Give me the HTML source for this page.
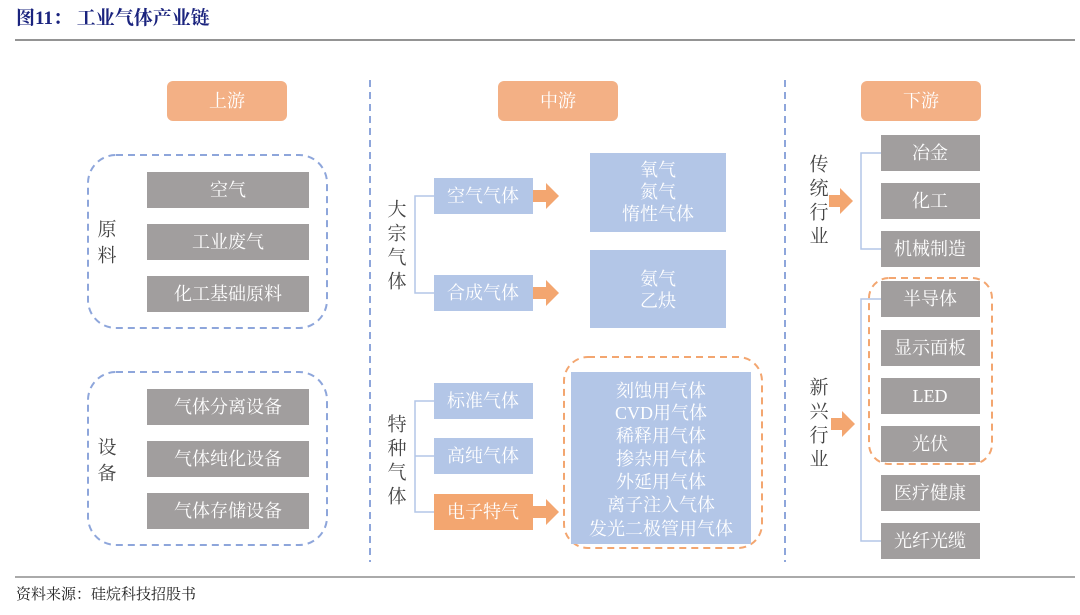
<!DOCTYPE html>
<html><head><meta charset="utf-8"><style>
html,body{margin:0;padding:0;background:#fff;}
svg{display:block;}
text{font-family:"Liberation Serif","Noto Serif CJK SC",serif;}
.w{fill:#fff;font-size:18px;text-anchor:middle;dominant-baseline:central;}
.l{fill:#444;font-size:19px;text-anchor:middle;dominant-baseline:central;}
</style></head><body>
<svg width="1080" height="615" viewBox="0 0 1080 615" xmlns="http://www.w3.org/2000/svg">
<text x="16" y="24" style="font-size:19px;font-weight:bold;fill:#1a237e;font-family:'Liberation Serif','Noto Serif CJK SC',serif">图11：  工业气体产业链</text>
<line x1="15" y1="40" x2="1075" y2="40" stroke="#555" stroke-width="1.2"/>
<line x1="15" y1="577" x2="1075" y2="577" stroke="#555" stroke-width="1"/>
<text x="16" y="599" style="font-size:15px;fill:#222">资料来源：硅烷科技招股书</text>

<!-- dividers -->
<line x1="370" y1="80" x2="370" y2="562" stroke="#8ea6db" stroke-width="2" stroke-dasharray="7,5"/>
<line x1="785" y1="80" x2="785" y2="562" stroke="#8ea6db" stroke-width="2" stroke-dasharray="7,5"/>

<!-- headers -->
<rect x="167" y="81" width="120" height="40" rx="6" fill="#f3b085"/><text class="w" x="227" y="101">上游</text>
<rect x="498" y="81" width="120" height="40" rx="6" fill="#f3b085"/><text class="w" x="558" y="101">中游</text>
<rect x="861" y="81" width="120" height="40" rx="6" fill="#f3b085"/><text class="w" x="921" y="101">下游</text>

<!-- upstream -->
<rect x="88" y="155" width="239" height="173" rx="28" fill="none" stroke="#8ea6db" stroke-width="2" stroke-dasharray="7,5"/>
<rect x="88" y="372" width="239" height="173" rx="28" fill="none" stroke="#8ea6db" stroke-width="2" stroke-dasharray="7,5"/>
<g fill="#a19e9e">
<rect x="147" y="172" width="162" height="36"/><rect x="147" y="224" width="162" height="36"/><rect x="147" y="276" width="162" height="36"/>
<rect x="147" y="389" width="162" height="36"/><rect x="147" y="441" width="162" height="36"/><rect x="147" y="493" width="162" height="36"/>
</g>
<text class="w" x="228" y="190">空气</text><text class="w" x="228" y="242">工业废气</text><text class="w" x="228" y="294">化工基础原料</text>
<text class="w" x="228" y="407">气体分离设备</text><text class="w" x="228" y="459">气体纯化设备</text><text class="w" x="228" y="511">气体存储设备</text>
<text class="l" x="107" y="230">原</text><text class="l" x="107" y="256">料</text>
<text class="l" x="107" y="448">设</text><text class="l" x="107" y="474">备</text>

<!-- middle -->
<text class="l" x="397" y="210">大</text><text class="l" x="397" y="234">宗</text><text class="l" x="397" y="258">气</text><text class="l" x="397" y="282">体</text>
<polyline points="434,196 415,196 415,293 434,293" fill="none" stroke="#b3c6e7" stroke-width="1.5"/>
<rect x="434" y="178" width="99" height="36" fill="#b3c6e7"/><text class="w" x="483" y="196">空气气体</text>
<rect x="434" y="275" width="99" height="36" fill="#b3c6e7"/><text class="w" x="483" y="293">合成气体</text>
<polygon points="533,190 546,190 546,183 559,196 546,209 546,202 533,202" fill="#f3a670"/>
<polygon points="533,287 546,287 546,280 559,293 546,306 546,299 533,299" fill="#f3a670"/>
<rect x="590" y="153" width="136" height="79" fill="#b3c6e7"/>
<text class="w" x="658" y="170">氧气</text><text class="w" x="658" y="192">氮气</text><text class="w" x="658" y="214">惰性气体</text>
<rect x="590" y="250" width="136" height="78" fill="#b3c6e7"/>
<text class="w" x="658" y="279">氨气</text><text class="w" x="658" y="301">乙炔</text>

<text class="l" x="397" y="425">特</text><text class="l" x="397" y="449">种</text><text class="l" x="397" y="473">气</text><text class="l" x="397" y="497">体</text>
<polyline points="434,401 415,401 415,512 434,512" fill="none" stroke="#b3c6e7" stroke-width="1.5"/>
<line x1="415" y1="456" x2="434" y2="456" stroke="#b3c6e7" stroke-width="1.5"/>
<rect x="434" y="383" width="99" height="36" fill="#b3c6e7"/><text class="w" x="483" y="401">标准气体</text>
<rect x="434" y="438" width="99" height="36" fill="#b3c6e7"/><text class="w" x="483" y="456">高纯气体</text>
<rect x="434" y="494" width="99" height="36" fill="#f3a670"/><text class="w" x="483" y="512">电子特气</text>
<polygon points="533,506 546,506 546,499 559,512 546,525 546,518 533,518" fill="#f3a670"/>
<rect x="564" y="357" width="198" height="191" rx="24" fill="none" stroke="#f3a670" stroke-width="2" stroke-dasharray="7,5"/>
<rect x="571" y="372" width="180" height="172" fill="#b3c6e7"/>
<text class="w" x="661" y="391">刻蚀用气体</text><text class="w" x="661" y="413">CVD用气体</text><text class="w" x="661" y="436">稀释用气体</text>
<text class="w" x="661" y="459">掺杂用气体</text><text class="w" x="661" y="482">外延用气体</text><text class="w" x="661" y="505">离子注入气体</text><text class="w" x="661" y="529">发光二极管用气体</text>

<!-- downstream -->
<text class="l" x="819" y="165">传</text><text class="l" x="819" y="189">统</text><text class="l" x="819" y="213">行</text><text class="l" x="819" y="237">业</text>
<polygon points="829,195 840,195 840,188 853,201 840,214 840,207 829,207" fill="#f3a670"/>
<polyline points="881,153 861,153 861,249 881,249" fill="none" stroke="#b3c6e7" stroke-width="1.5"/>
<text class="l" x="819" y="388">新</text><text class="l" x="819" y="412">兴</text><text class="l" x="819" y="436">行</text><text class="l" x="819" y="460">业</text>
<polygon points="831,418 842,418 842,411 855,424 842,437 842,430 831,430" fill="#f3a670"/>
<polyline points="881,299 861,299 861,541 881,541" fill="none" stroke="#b3c6e7" stroke-width="1.5"/>
<g fill="#a19e9e">
<rect x="881" y="135" width="99" height="36"/><rect x="881" y="183" width="99" height="36"/><rect x="881" y="231" width="99" height="36"/>
<rect x="881" y="281" width="99" height="36"/><rect x="881" y="330" width="99" height="36"/><rect x="881" y="378" width="99" height="36"/>
<rect x="881" y="426" width="99" height="36"/><rect x="881" y="475" width="99" height="36"/><rect x="881" y="523" width="99" height="36"/>
</g>
<rect x="869" y="278" width="123" height="186" rx="20" fill="none" stroke="#f3a670" stroke-width="2" stroke-dasharray="7,5"/>
<text class="w" x="930" y="153">冶金</text><text class="w" x="930" y="201">化工</text><text class="w" x="930" y="249">机械制造</text>
<text class="w" x="930" y="299">半导体</text><text class="w" x="930" y="348">显示面板</text><text class="w" x="930" y="396">LED</text>
<text class="w" x="930" y="444">光伏</text><text class="w" x="930" y="493">医疗健康</text><text class="w" x="930" y="541">光纤光缆</text>
</svg>
</body></html>
